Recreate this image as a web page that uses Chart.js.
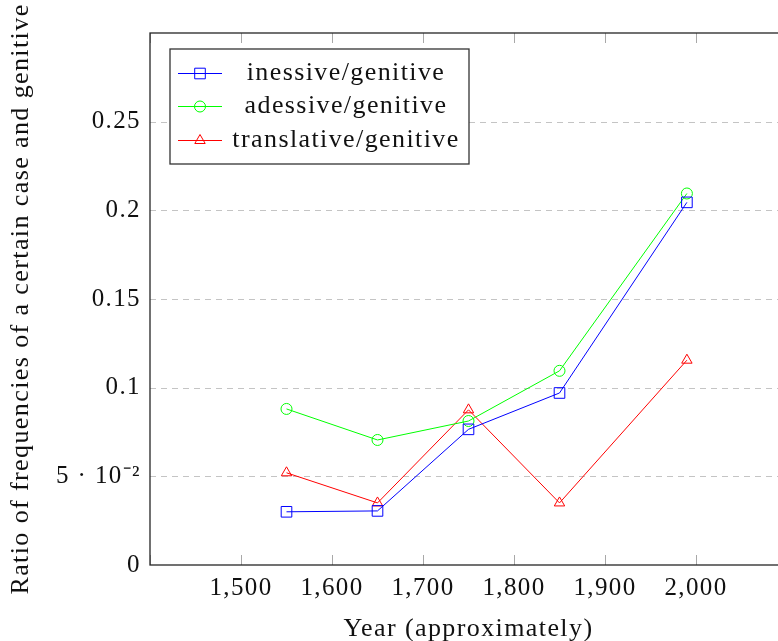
<!DOCTYPE html>
<html>
<head>
<meta charset="utf-8">
<script src="https://cdn.jsdelivr.net/npm/chart.js@4/dist/chart.umd.min.js"></script>
<style>
  html, body { margin: 0; padding: 0; background: #fff; overflow: hidden; }
  #wrap { position: relative; width: 800px; height: 641px; }
</style>
</head>
<body>
<div id="wrap"><canvas id="c"></canvas></div>
<script>
// Данные
const years = [1550, 1650, 1750, 1850, 1990];
const inessive = [0.030, 0.0305, 0.0765, 0.097, 0.2045];
const adessive = [0.088, 0.0705, 0.0812, 0.1095, 0.2095];
const translative = [0.052, 0.035, 0.0875, 0.035, 0.1155];
const seriesLabels = ['inessive/genitive', 'adessive/genitive', 'translative/genitive'];

const FONT = 'Liberation Serif';
const SPACING = '1.4px';

function toPoints(ys) {
    return years.map((x, i) => ({ x: x, y: ys[i] }));
}

// Разрядка букв, чтобы ширина текста была ближе к Computer Modern
const spacingPlugin = {
    id: 'spacing',
    beforeLayout(chart) { chart.ctx.letterSpacing = SPACING; },
    beforeDraw(chart) { chart.ctx.letterSpacing = SPACING; }
};

// Рамка, пунктирная сетка и внутренние засечки как в pgfplots
const framePlugin = {
    id: 'frame',
    beforeDatasetsDraw(chart) {
        const { ctx, chartArea: a, scales } = chart;
        ctx.save();
        // сетка по y
        ctx.strokeStyle = '#c4c4c4';
        ctx.lineWidth = 1;
        ctx.setLineDash([6, 5]);
        scales.y.ticks.forEach(t => {
            if (t.value <= 0 || t.value >= 0.3) return;
            const y = Math.round(scales.y.getPixelForValue(t.value)) + 0.5;
            ctx.beginPath();
            ctx.moveTo(a.left, y);
            ctx.lineTo(a.right, y);
            ctx.stroke();
        });
        ctx.setLineDash([]);
        // засечки по x внутрь
        ctx.strokeStyle = '#a8a8a8';
        scales.x.ticks.forEach(t => {
            const x = Math.round(scales.x.getPixelForValue(t.value)) + 0.5;
            ctx.beginPath();
            ctx.moveTo(x, a.bottom);
            ctx.lineTo(x, a.bottom - 10);
            ctx.moveTo(x, a.top);
            ctx.lineTo(x, a.top + 10);
            ctx.stroke();
        });
        // рамка
        ctx.strokeStyle = '#262626';
        ctx.lineWidth = 1.3;
        ctx.strokeRect(a.left, a.top, a.right - a.left, a.bottom - a.top);
        ctx.restore();
    }
};

// Легенда внутри области графика
const legendBoxPlugin = {
    id: 'legendBox',
    afterDraw(chart) {
        const ctx = chart.ctx;
        const box = { left: 170, top: 49, width: 299, height: 115 };
        const rowY = [73, 106, 140];
        ctx.save();
        ctx.fillStyle = '#fff';
        ctx.fillRect(box.left, box.top, box.width, box.height);
        ctx.strokeStyle = '#333';
        ctx.lineWidth = 1.3;
        ctx.strokeRect(box.left, box.top, box.width, box.height);
        chart.data.datasets.forEach((ds, i) => {
            const y = rowY[i];
            ctx.strokeStyle = ds.borderColor;
            ctx.fillStyle = 'rgba(0,0,0,0)';
            ctx.lineWidth = 1;
            ctx.beginPath();
            ctx.moveTo(178, y + 0.5);
            ctx.lineTo(222, y + 0.5);
            ctx.stroke();
            Chart.helpers.drawPoint(ctx, {
                pointStyle: ds.pointStyle,
                radius: ds.pointRadius,
                borderWidth: 1,
                rotation: 0
            }, 200, y + 0.5);
            ctx.fillStyle = '#111';
            ctx.font = '26px "' + FONT + '"';
            ctx.letterSpacing = SPACING;
            ctx.textAlign = 'center';
            ctx.textBaseline = 'middle';
            ctx.fillText(ds.label, 346, y);
        });
        ctx.restore();
    }
};

function makeDataset(label, ys, color, style, radius) {
    return {
        label: label,
        data: toPoints(ys),
        borderColor: color,
        backgroundColor: color,
        pointBorderColor: color,
        pointBackgroundColor: 'rgba(0,0,0,0)',
        pointStyle: style,
        pointRadius: radius,
        pointBorderWidth: 1,
        borderWidth: 1,
        tension: 0
    };
}

new Chart(document.getElementById('c'), {
    type: 'line',
    data: {
        datasets: [
            makeDataset(seriesLabels[0], inessive, '#0000ff', 'rect', 7.5),
            makeDataset(seriesLabels[1], adessive, '#00ff00', 'circle', 5.5),
            makeDataset(seriesLabels[2], translative, '#ff0000', 'triangle', 6)
        ]
    },
    options: {
        responsive: true,
        maintainAspectRatio: false,
        animation: false,
        layout: { padding: { top: 33, right: 13, left: 0, bottom: 0 } },
        plugins: {
            legend: { display: false },
            tooltip: { enabled: false }
        },
        scales: {
            x: {
                type: 'linear',
                min: 1400,
                max: 2100,
                grid: { display: false },
                border: { display: false },
                ticks: {
                    stepSize: 100,
                    padding: 0,
                    color: '#111',
                    maxRotation: 0,
                    autoSkip: false,
                    font: { family: FONT, size: 25 },
                    callback: v => (v >= 1500 && v <= 2000) ? v.toLocaleString('en-US') : ''
                },
                title: {
                    display: true,
                    text: 'Year (approximately)',
                    color: '#111',
                    font: { family: FONT, size: 26 },
                    padding: { top: 0, bottom: -4 }
                },
                afterFit: s => { s.height = 76; }
            },
            y: {
                min: 0,
                max: 0.3,
                grid: { display: false },
                border: { display: false },
                ticks: {
                    stepSize: 0.05,
                    padding: 1,
                    color: '#111',
                    font: { family: FONT, size: 25 },
                    callback: v => {
                        const r = Math.round(v * 100) / 100;
                        if (r >= 0.3) return '';
                        if (r === 0.05) return '5 \u00b7 10\u207b\u00b2';
                        return String(r);
                    }
                },
                title: {
                    display: true,
                    text: 'Ratio of frequencies of a certain case and genitive',
                    color: '#111',
                    font: { family: FONT, size: 26 },
                    padding: { top: 6, bottom: 0 }
                },
                afterFit: s => { s.width = 150; }
            }
        }
    },
    plugins: [spacingPlugin, framePlugin, legendBoxPlugin]
});
</script>
</body>
</html>
